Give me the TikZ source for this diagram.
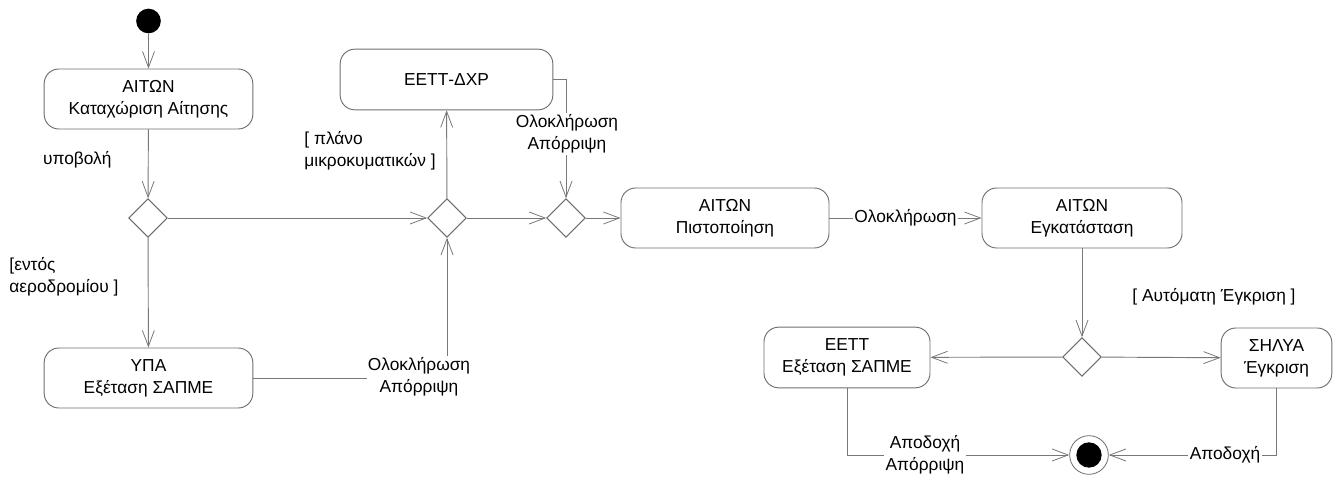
\documentclass[tikz,border=0pt]{standalone}
\usepackage{fontspec}
\setmainfont{Liberation Sans}
\usetikzlibrary{arrows.meta,shapes.geometric}
\begin{document}
\begin{tikzpicture}[x=0.75pt,y=-0.75pt,
  font=\fontsize{13}{16.5}\selectfont,
  conn/.style={draw={rgb,255:red,120;green,120;blue,120}, line width=0.7pt,
    -{Straight Barb[length=12pt,width=9pt,line width=0.6pt]}},
  plain/.style={draw={rgb,255:red,120;green,120;blue,120}, line width=0.7pt},
  act/.style={rectangle, rounded corners=11pt, draw={rgb,255:red,110;green,110;blue,110},
    line width=0.7pt, minimum height=45pt, inner sep=0pt, align=center},
  dec/.style={diamond, draw={rgb,255:red,110;green,110;blue,110}, line width=0.7pt,
    minimum width=29pt, minimum height=29pt, inner sep=0pt},
  lbl/.style={align=center, fill=white, inner sep=1pt},
  glbl/.style={align=left, inner sep=0pt}]
\useasboundingbox (0,0) rectangle (1336,477);

\node[circle, fill=black, minimum size=18.5pt, inner sep=0pt] (start) at (148.5,21) {};
\node[act, minimum width=156.5pt] (reg) at (148.5,99) {ΑΙΤΩΝ\\Καταχώριση Αίτησης};
\node[dec] (d1) at (148,218) {};
\node[act, minimum width=156.5pt] (ypa) at (148.5,378) {ΥΠΑ\\Εξέταση ΣΑΠΜΕ};
\node[dec] (d2) at (447,218) {};
\node[act, minimum width=159.5pt, minimum height=45.5pt] (dxp) at (446.5,79.5) {ΕΕΤΤ-ΔΧΡ};
\node[dec] (d3) at (566,218) {};
\node[act, minimum width=156pt] (pist) at (725,218) {ΑΙΤΩΝ\\Πιστοποίηση};
\node[act, minimum width=150pt] (egk) at (1082,218) {ΑΙΤΩΝ\\Εγκατάσταση};
\node[dec] (d4) at (1082,357) {};
\node[act, minimum width=124.5pt, minimum height=45.5pt] (eett) at (847,357.5) {ΕΕΤΤ\\Εξέταση ΣΑΠΜΕ};
\node[act, minimum width=83pt] (shl) at (1276.5,358) {ΣΗΛΥΑ\\Έγκριση};
\node[circle, draw={rgb,255:red,110;green,110;blue,110}, line width=0.6pt,
  minimum size=29pt, inner sep=0pt] (end) at (1089,455) {};
\fill (end.center) circle (9.5pt);

\draw[conn] (start) -- (reg);
\draw[conn] (reg) -- (d1) node[glbl, anchor=east] at (112,160) {υποβολή};
\draw[conn] (d1) -- (d2);
\draw[conn] (d1) -- (ypa) node[glbl, anchor=west] at (9,277) {[εντός\\αεροδρομίου ]};
\draw[conn] (ypa.east) -| (d2.south);
\node[lbl] (l1) at (419,377) {Ολοκλήρωση\\Απόρριψη};
\draw[conn] (d2) -- (dxp) node[glbl, anchor=west] at (304,151) {[ πλάνο\\μικροκυματικών ]};
\draw[conn] (dxp.east) -| (d3.north);
\node[lbl] (l2) at (567,134) {Ολοκλήρωση\\Απόρριψη};
\draw[conn] (d2) -- (d3);
\draw[conn] (d3) -- (pist);
\draw[conn] (pist) -- (egk) node[lbl, midway] {Ολοκλήρωση};
\draw[conn] (egk) -- (d4);
\draw[conn] (d4) -- (eett);
\draw[conn] (d4) -- (shl) node[glbl] at (1214,297) {[ Αυτόματη Έγκριση ]};
\draw[conn] (eett.south) |- (end.west);
\node[lbl] (l3) at (925,455) {Αποδοχή\\Απόρριψη};
\draw[conn] (shl.south) |- (end.east);
\node[lbl] (l4) at (1225,455) {Αποδοχή};
\end{tikzpicture}
\end{document}
